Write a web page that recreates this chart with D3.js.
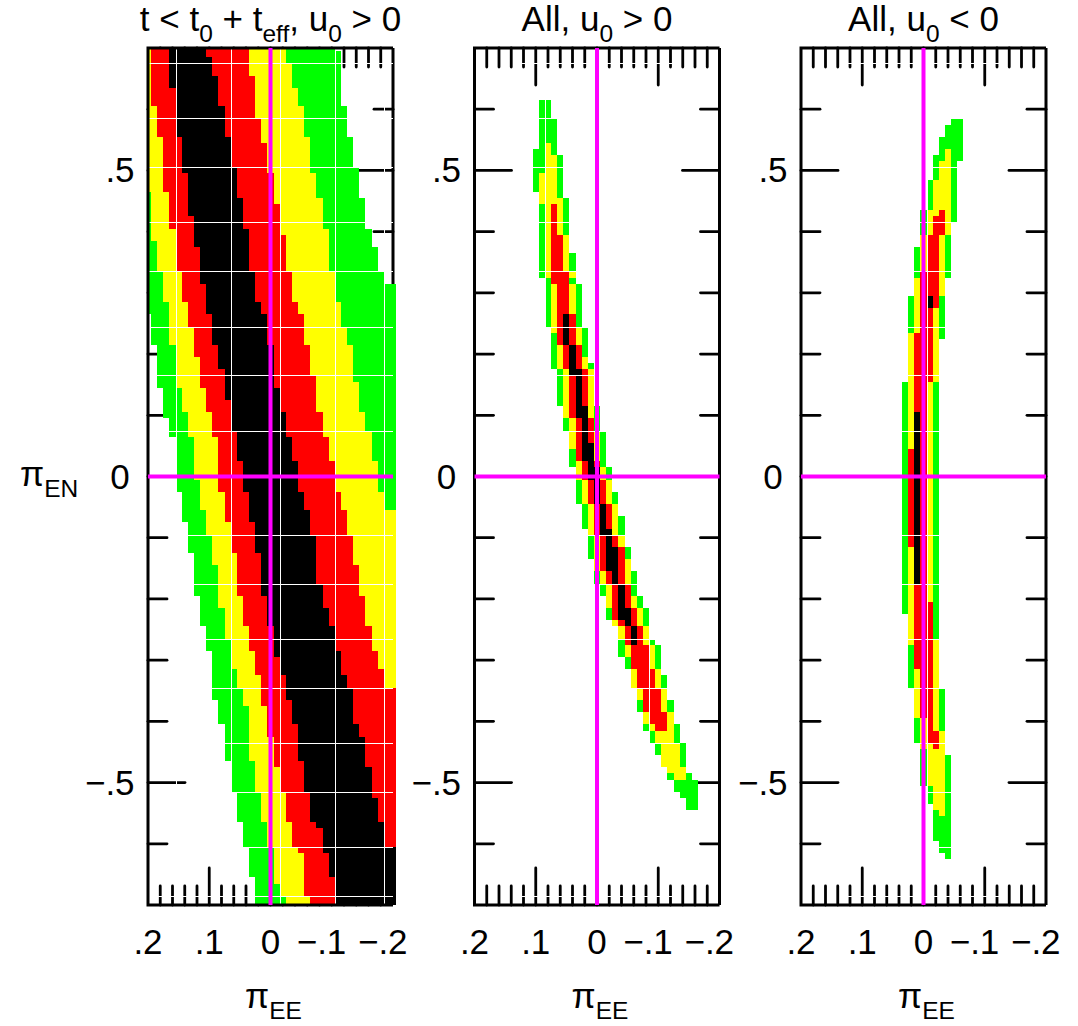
<!DOCTYPE html>
<html>
<head>
<meta charset="utf-8">
<script src="https://cdn.jsdelivr.net/npm/d3@7"></script>
<style>
  body { margin: 0; background: #fff; }
  svg text { font-family: "Liberation Sans", Arial, Helvetica, sans-serif; fill: #000; }
</style>
</head>
<body>
<svg id="chart" width="1078" height="1026"></svg>
<script>
// ---------------------------------------------------------------------------
// Axis extents and ticks (π_EE runs from +0.2 on the left to −0.2 on the right)
// ---------------------------------------------------------------------------
const xDomain = [0.2, -0.2];
const yDomain = [0.7, -0.7];
const xTickValues = [0.2, 0.1, 0, -0.1, -0.2];
const xTickLabels = [".2", ".1", "0", "\u2212.1", "\u2212.2"];
const yTickValues = [0.5, 0, -0.5];
const yTickLabels = [".5", "0", "\u2212.5"];

// Δχ² levels, drawn outermost first
const levelNames = ["3 sigma", "2 sigma", "1 sigma", "best"];
const levelColors = ["#00ff00", "#ffff00", "#ff0000", "#000000"];

// Panel titles as [text, subscript?] pieces
const panelTitles = [
  [["t < t", 0], ["0", 1], [" + t", 0], ["eff", 1], [", u", 0], ["0", 1], [" > 0", 0]],
  [["All, u", 0], ["0", 1], [" > 0", 0]],
  [["All, u", 0], ["0", 1], [" < 0", 0]]
];

// Seams of the resampled χ² map image (cell edges, in axis units)
const seamRows = [0.675, 0.585, 0.505, 0.415, 0.335, 0.245, 0.165, 0.075,
                  -0.095, -0.175, -0.265, -0.345, -0.435, -0.515, -0.605, -0.685];
const seamCols = [
  [0.155, 0.065, -0.015, -0.105, -0.185],
  [0.085, -0.085],
  [-0.005]
];

// ---------------------------------------------------------------------------
// Panel 1 (t < t0 + teff, u0 > 0): staircase boundaries of each level.
// Grid cells are 0.01 × 0.01, centred on whole hundredths.
// A step [n, b] means: from the π_EN row n (hundredths) downwards the boundary
// sits on the high-π_EE edge of cell b (hundredths of π_EE).
// ---------------------------------------------------------------------------
const p1GreenLeft  = [[70,20],[26,19],[21,18],[14,17],[9,16],[6,15],[-3,14],[-8,13],[-13,12],[-20,11],[-25,10],[-29,9],[-37,8],[-41,7],[-47,6],[-52,5],[-57,4],[-61,3],[-66,2]];
const p1YellowLeft = [[70,20],[46,19],[38,18],[33,17],[28,16],[21,15],[14,14],[10,13],[6,12],[-1,11],[-6,10],[-10,9],[-15,8],[-22,7],[-27,6],[-32,5],[-35,4],[-38,3],[-47,2],[-52,1],[-57,0],[-61,-1],[-67,-2],[-69,-3]];
const p1RedLeft    = [[70,19],[60,18],[55,17],[46,16],[40,15],[33,14],[28,13],[24,12],[19,11],[14,10],[10,9],[6,8],[-3,7],[-8,6],[-13,5],[-20,4],[-25,3],[-29,2],[-33,1],[-38,0],[-43,-1],[-48,-2],[-52,-3],[-57,-4],[-61,-5],[-62,-6],[-69,-7]];
const p1BlackLeft  = [[70,16],[63,15],[55,14],[49,13],[42,12],[37,11],[31,10],[26,9],[21,8],[17,7],[12,6],[7,5],[2,4],[-3,3],[-8,2],[-13,1],[-20,0],[-25,-1],[-30,-2],[-33,-3],[-37,-4],[-41,-5],[-47,-6],[-52,-7],[-57,-8],[-58,-9],[-62,-10],[-66,-11]];
const p1BlackRight = [[70,10],[68,9],[65,8],[60,7],[55,6],[50,5],[45,4],[40,3],[33,2],[28,1],[26,0],[21,-1],[14,-2],[10,-3],[6,-4],[2,-5],[-3,-6],[-6,-7],[-10,-8],[-18,-9],[-22,-10],[-25,-11],[-29,-12],[-33,-13],[-35,-14],[-41,-15],[-43,-16],[-48,-17],[-53,-18],[-57,-19],[-61,-21]];
const p1RedRight   = [[70,3],[65,2],[58,1],[54,0],[49,-1],[44,-2],[39,-3],[33,-4],[28,-5],[26,-6],[21,-7],[16,-8],[10,-9],[6,-10],[2,-11],[-3,-12],[-6,-13],[-10,-14],[-15,-15],[-20,-16],[-25,-17],[-29,-18],[-32,-19],[-35,-21]];
const p1YellowRight= [[70,-3],[67,-4],[63,-5],[60,-6],[55,-7],[49,-8],[45,-9],[40,-10],[33,-11],[28,-12],[24,-13],[21,-14],[15,-15],[10,-16],[7,-17],[2,-18],[-3,-19],[-6,-21]];
const p1GreenRight = [[70,-11],[69,-12],[60,-13],[55,-14],[50,-15],[45,-16],[40,-17],[37,-18],[33,-19],[31,-21]];

// ---------------------------------------------------------------------------
// Panels 2 and 3 (all data): runs of π_EN rows [top, bottom] followed by the
// cell ranges [left, right] (hundredths of π_EE) of green, yellow, red, black.
// ---------------------------------------------------------------------------
const p2Rows = [
  [61,59,[9,8]],
  [58,55,[9,7]],
  [54,54,[9,7],[8,8]],
  [53,53,[10,7],[8,8]],
  [52,50,[10,6],[8,7]],
  [49,47,[10,6],[9,7]],
  [46,46,[9,6],[9,7]],
  [45,45,[9,5],[9,6]],
  [44,40,[9,5],[8,6],[7,7]],
  [39,37,[9,5],[8,5],[7,6]],
  [36,34,[9,4],[8,5],[7,6]],
  [33,33,[9,4],[8,4],[7,5]],
  [32,32,[8,4],null,[7,5]],
  [31,27,[8,3],[7,4],[6,5]],
  [26,25,[8,3],[7,4],[6,4],[5,5]],
  [24,24,[7,2],[7,3],[6,4],[5,5]],
  [23,22,[7,2],[6,3],[6,4],[5,5]],
  [21,20,[7,2],[6,3],[5,3],[4,4]],
  [19,19,[7,2],[6,2],[5,3],[4,4]],
  [18,18,[7,1],[6,2],[5,3],[4,4]],
  [17,17,[6,1],[5,1],[4,2],[4,3]],
  [16,12,[6,1],[5,1],[4,2],[3,3]],
  [11,10,[5,0],[5,1],[4,2],[3,2]],
  [9,8,[5,0],[4,1],[3,1],[2,2]],
  [7,6,[4,-1],[4,0],[3,1],[2,2]],
  [5,5,[4,-1],[4,0],[3,1],[2,1]],
  [4,3,[4,-1],[3,0],[3,1],[2,1]],
  [2,2,[4,-1],[3,0],[2,0],[1,1]],
  [1,0,[3,-2],[3,-1],[2,0],[1,0]],
  [-1,-2,[3,-2],[2,-2],[1,-1],[0,0]],
  [-3,-4,[3,-3],[2,-2],[1,-1],[0,0]],
  [-5,-6,[2,-3],[1,-3],[0,-2],[-1,-1]],
  [-7,-8,[2,-4],[1,-3],[0,-2],[-1,-1]],
  [-9,-9,[1,-4],[1,-3],[0,-2],[-1,-2]],
  [-10,-11,[1,-4],[0,-4],[-1,-3],[-2,-2]],
  [-12,-13,[1,-5],[0,-4],[-1,-4],[-2,-3]],
  [-14,-15,[0,-5],[0,-5],[-1,-4],[-2,-3]],
  [-16,-17,[0,-6],[-1,-5],[-2,-4],[-3,-3]],
  [-18,-19,[-1,-6],[-2,-5],[-3,-5],[-4,-4]],
  [-20,-21,[-2,-7],[-2,-6],[-3,-5],[-4,-4]],
  [-22,-23,[-2,-8],[-3,-7],[-3,-6],[-4,-5]],
  [-24,-24,[-3,-8],[-3,-7],[-4,-6],[-5,-5]],
  [-25,-26,[-4,-8],[-4,-8],[-5,-7],[-6,-6]],
  [-27,-27,[-4,-9],[-5,-8],[-5,-7],[-6,-6]],
  [-28,-29,[-4,-10],[-5,-9],[-6,-8]],
  [-30,-31,[-5,-10],[-6,-9],[-6,-8]],
  [-32,-32,[-6,-10],[-6,-10],[-7,-9]],
  [-33,-34,[-6,-11],[-6,-10],[-7,-9]],
  [-35,-36,[-7,-11],[-7,-11],[-8,-10]],
  [-37,-38,[-7,-12],[-8,-11],[-8,-10]],
  [-39,-40,[-8,-12],[-8,-12],[-9,-11]],
  [-41,-41,[-8,-13],[-9,-12],[-10,-11]],
  [-42,-43,[-9,-13],[-10,-12]],
  [-44,-45,[-10,-14],[-11,-13]],
  [-46,-47,[-11,-14],[-11,-13]],
  [-48,-48,[-12,-14],[-12,-14]],
  [-49,-49,[-12,-15],[-13,-14]],
  [-50,-51,[-13,-16]],
  [-52,-52,[-14,-16]],
  [-53,-54,[-15,-16]]
];

const p3Rows = [
  [58,58,[-5,-6]],
  [57,56,[-4,-6]],
  [55,54,[-3,-6]],
  [53,53,[-3,-6],[-4,-4]],
  [52,52,[-2,-6],[-4,-4]],
  [51,49,[-2,-5],[-3,-4]],
  [48,44,[-1,-5],[-2,-4]],
  [43,43,[0,-5],[-1,-4],[-3,-3]],
  [42,42,[0,-5],[-1,-4],[-2,-3]],
  [41,40,[0,-4],[-1,-4],[-2,-3]],
  [39,38,[0,-4],[0,-3],[-1,-2]],
  [37,34,[1,-4],[0,-3],[-1,-2]],
  [33,33,[1,-4],[0,-3],[0,-2]],
  [32,30,[1,-3],[1,-3],[0,-2]],
  [29,28,[2,-3],[1,-2],[0,-2],[-1,-1]],
  [27,24,[2,-3],[1,-2],[0,-1]],
  [23,23,[2,-3],[2,-2],[1,-1]],
  [22,16,[2,-2],[2,-2],[1,-1]],
  [15,11,[3,-2],[2,-1],[1,0]],
  [10,5,[3,-2],[2,-1],[1,0],[1,1]],
  [4,-11,[3,-2],[2,-1],[2,0],[1,1]],
  [-12,-17,[3,-2],[2,-1],[1,0],[1,1]],
  [-18,-20,[3,-2],[2,-1],[1,0]],
  [-21,-22,[3,-2],[2,-1],[1,-1]],
  [-23,-26,[2,-2],[2,-1],[1,-1]],
  [-27,-27,[2,-2],[2,-2],[1,-1]],
  [-28,-31,[2,-2],[1,-2],[1,-1]],
  [-32,-34,[2,-2],[1,-2],[0,-1]],
  [-35,-39,[1,-3],[1,-2],[0,-1]],
  [-40,-41,[1,-3],[0,-2],[-1,-1]],
  [-42,-43,[1,-3],[0,-3],[-1,-2]],
  [-44,-44,[0,-3],[0,-3],[-2,-2]],
  [-45,-45,[0,-3],[-1,-3]],
  [-46,-50,[0,-4],[-1,-3]],
  [-51,-53,[-1,-4],[-2,-3]],
  [-54,-54,[-2,-4],[-2,-3]],
  [-55,-55,[-2,-4],[-3,-3]],
  [-56,-59,[-2,-4]],
  [-60,-61,[-3,-4]],
  [-62,-62,[-4,-4]]
];

// ---------------------------------------------------------------------------
// Helpers turning the tables into per-row cell ranges
// ---------------------------------------------------------------------------
function stepAt(steps, n) {
  let v = steps[0][1];
  for (const [n0, b] of steps) { if (n <= n0) v = b; else break; }
  return v;
}

function rowsFromBoundaries(bounds) {
  const rows = [];
  for (let n = 70; n >= -70; n--) {
    const b = bounds.map(s => stepAt(s, n));
    const lv = [];
    for (let k = 0; k < 4; k++) {
      const a = b[2 * k], c = b[2 * k + 1] + 1;
      lv.push(a >= c ? [a, c] : null);
    }
    rows.push({ n, lv });
  }
  return rows;
}

function rowsFromRuns(runs) {
  const rows = [];
  runs.forEach(([n0, n1, ...lv]) => {
    for (let n = n0; n >= n1; n--) rows.push({ n, lv: [0, 1, 2, 3].map(k => lv[k] || null) });
  });
  return rows;
}

const panelRows = [
  rowsFromBoundaries([p1GreenLeft, p1GreenRight, p1YellowLeft, p1YellowRight,
                      p1RedLeft, p1RedRight, p1BlackLeft, p1BlackRight]),
  rowsFromRuns(p2Rows),
  rowsFromRuns(p3Rows)
];

// ---------------------------------------------------------------------------
// Layout
// ---------------------------------------------------------------------------
const svg = d3.select("#chart");
const panelLefts = [148, 474.5, 801];
const panelWidth = 245;
const plotTop = 48, plotBottom = 905;
const fontSize = 35;
const majorLen = 37, minorLen = 19;

function richText(sel, parts, size) {
  parts.forEach(([t, sub], i) => {
    const prevSub = i > 0 && parts[i - 1][1];
    const ts = sel.append("tspan").text(t);
    if (sub) {
      ts.attr("font-size", size * 0.7);
      if (!prevSub) ts.attr("dy", size * 0.32);
    } else if (prevSub) {
      ts.attr("dy", -size * 0.32);
    }
  });
}

// Number labels: the digits are centred on the tick, a leading minus hangs to the left
function numberLabel(g, label, cx, baseline) {
  const neg = label.startsWith("\u2212");
  const body = neg ? label.slice(1) : label;
  const t = g.append("text").attr("x", cx).attr("y", baseline)
    .attr("text-anchor", "middle").attr("font-size", fontSize).text(body);
  if (neg) {
    const w = t.node().getComputedTextLength();
    g.append("text").attr("x", cx - w / 2).attr("y", baseline)
      .attr("text-anchor", "end").attr("font-size", fontSize).text("\u2212");
  }
}

panelRows.forEach((rows, p) => {
  const left = panelLefts[p];
  const right = left + panelWidth;
  const x = d3.scaleLinear().domain(xDomain).range([left, right]);
  const y = d3.scaleLinear().domain(yDomain).range([plotTop, plotBottom]);
  const g = svg.append("g");

  // right-hand frame edge sits beneath the map
  g.append("line").attr("x1", right).attr("x2", right).attr("y1", plotTop).attr("y2", plotBottom)
    .attr("stroke", "#000").attr("stroke-width", 3);

  // tick marks (inward on all four sides)
  const tickG = g.append("g").attr("stroke", "#000").attr("stroke-width", 2.8)
    .attr("stroke-linecap", "round");
  const xMinor = d3.range(-9, 10).map(i => +(i * 0.02).toFixed(2));
  xMinor.forEach(v => {
    const len = Math.abs(Math.round(v * 100)) % 10 === 0 ? majorLen : minorLen;
    tickG.append("line").attr("x1", x(v)).attr("x2", x(v)).attr("y1", plotBottom).attr("y2", plotBottom - len);
    tickG.append("line").attr("x1", x(v)).attr("x2", x(v)).attr("y1", plotTop).attr("y2", plotTop + len);
  });
  const yMinor = d3.range(-6, 7).map(i => +(i * 0.1).toFixed(1));
  yMinor.forEach(v => {
    const len = Math.abs(Math.round(v * 10)) % 5 === 0 ? majorLen : minorLen;
    tickG.append("line").attr("y1", y(v)).attr("y2", y(v)).attr("x1", left).attr("x2", left + len);
    tickG.append("line").attr("y1", y(v)).attr("y2", y(v)).attr("x1", right).attr("x2", right - len);
  });

  // Δχ² cells
  const clipId = "clip" + p;
  svg.append("clipPath").attr("id", clipId).append("rect")
    .attr("x", left).attr("y", plotTop).attr("width", panelWidth + 3).attr("height", plotBottom - plotTop);
  const cellG = g.append("g").attr("clip-path", `url(#${clipId})`).attr("shape-rendering", "crispEdges");
  for (let k = 0; k < 4; k++) {
    const rects = [];
    let cur = null;
    rows.forEach(r => {
      const iv = r.lv[k];
      if (iv && cur && cur.a === iv[0] && cur.b === iv[1] && cur.nEnd === r.n + 1) {
        cur.nEnd = r.n;
      } else if (iv) {
        cur = { a: iv[0], b: iv[1], nStart: r.n, nEnd: r.n };
        rects.push(cur);
      } else {
        cur = null;
      }
    });
    cellG.append("g").attr("class", levelNames[k]).selectAll("rect").data(rects).join("rect")
      .attr("x", d => x((d.a + 0.5) / 100))
      .attr("width", d => x((d.b - 0.5) / 100) - x((d.a + 0.5) / 100))
      .attr("y", d => y((d.nStart + 0.5) / 100))
      .attr("height", d => y((d.nEnd - 0.5) / 100) - y((d.nStart + 0.5) / 100))
      .attr("fill", levelColors[k]);
  }

  // thin white seams across the map image (the narrow maps stay clear of the ticks)
  const seamInset = p === 0 ? 0 : 40;
  const seamG = cellG.append("g").attr("stroke", "#fff").attr("stroke-width", 1);
  seamRows.forEach(v => seamG.append("line").attr("x1", left + seamInset).attr("x2", right - seamInset)
    .attr("y1", Math.round(y(v)) + 0.5).attr("y2", Math.round(y(v)) + 0.5));
  seamCols[p].forEach(v => seamG.append("line")
    .attr("y1", plotTop + seamInset).attr("y2", plotBottom - seamInset)
    .attr("x1", Math.round(x(v)) + 0.5).attr("x2", Math.round(x(v)) + 0.5));

  // frame: top, left and bottom edges over the map
  g.append("path")
    .attr("d", `M${right},${plotTop}H${left}V${plotBottom}H${right}`)
    .attr("fill", "none").attr("stroke", "#000").attr("stroke-width", 3);

  // zero lines
  g.append("line").attr("x1", x(0)).attr("x2", x(0)).attr("y1", plotTop).attr("y2", plotBottom)
    .attr("stroke", "#ff00ff").attr("stroke-width", 4);
  g.append("line").attr("x1", left).attr("x2", right).attr("y1", y(0)).attr("y2", y(0))
    .attr("stroke", "#ff00ff").attr("stroke-width", 4);

  // tick labels
  xTickValues.forEach((v, i) => numberLabel(g, xTickLabels[i], x(v), 954));
  yTickValues.forEach((v, i) => numberLabel(g, yTickLabels[i], left - 28, y(v) + 12));

  // title
  const title = g.append("text").attr("x", left + panelWidth / 2).attr("y", 31)
    .attr("text-anchor", "middle").attr("font-size", fontSize);
  richText(title, panelTitles[p], fontSize);

  // x axis label
  const xl = g.append("text").attr("x", left + panelWidth / 2 + 3).attr("y", 1008)
    .attr("text-anchor", "middle").attr("font-size", fontSize);
  richText(xl, [["\u03c0", 0], ["EE", 1]], fontSize);
});

// y axis label
const yl = svg.append("text").attr("x", 20).attr("y", 486).attr("font-size", fontSize);
richText(yl, [["\u03c0", 0], ["EN", 1]], fontSize);
</script>
</body>
</html>
